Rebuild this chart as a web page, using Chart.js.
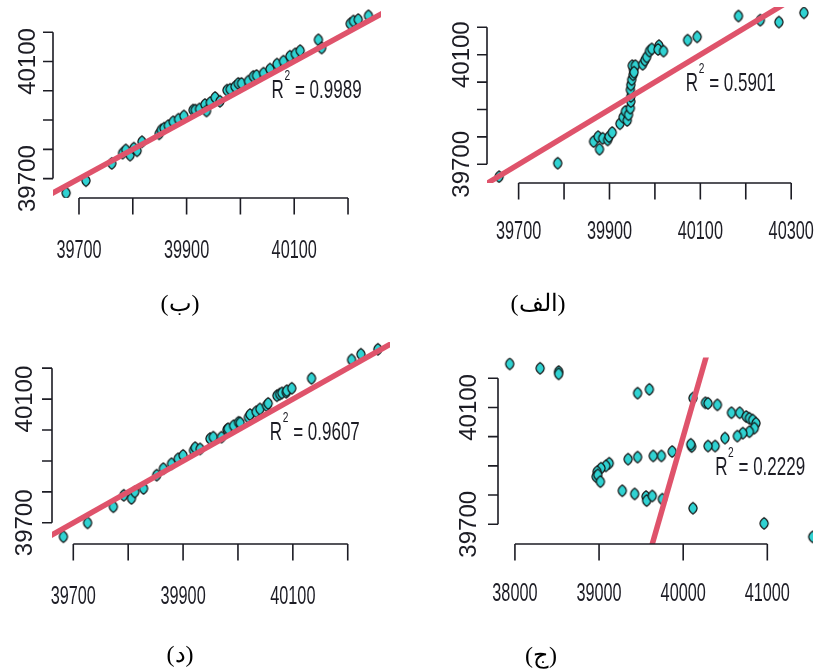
<!DOCTYPE html>
<html>
<head>
<meta charset="utf-8">
<title>1:1 scatter panels</title>
<script src="https://cdn.jsdelivr.net/npm/chart.js@4.4.0/dist/chart.umd.min.js"></script>
<style>
  body { margin: 0; background: #fff; }
  #page { position: relative; width: 820px; height: 671px; overflow: hidden; background: #fff; }
  #page canvas { position: absolute; }
  .cap { position: absolute; width: 120px; text-align: center; color: #000;
         font: 24px "Liberation Serif", "DejaVu Serif", serif; line-height: 28px; }
</style>
</head>
<body>
<div id="page">
  <canvas id="chartBe" width="410" height="335" style="left:0;top:0"></canvas>
  <canvas id="chartAlef" width="410" height="335" style="left:410px;top:0"></canvas>
  <canvas id="chartDal" width="410" height="336" style="left:0;top:335px"></canvas>
  <canvas id="chartJim" width="410" height="336" style="left:410px;top:335px"></canvas>
  <div class="cap" style="left:120px;top:289px">(ب)</div>
  <div class="cap" style="left:478px;top:289px">(الف)</div>
  <div class="cap" style="left:120px;top:640px">(د)</div>
  <div class="cap" style="left:481px;top:641px">(ج)</div>
</div>
<script>
// ---- data ----
// (الف)
const alefX = [39657, 39786, 39865, 39875, 39878, 39885, 39896, 39899, 39906, 39923, 39930, 39935, 39939,
  39942, 39946, 39947, 39947, 39946, 39947, 39949, 39952, 39953, 39950, 39957, 39954, 39973, 39978,
  39982, 39988, 39993, 40009, 40007, 40019, 40072, 40093, 40184, 40232, 40273, 40328];
const alefY = [39655, 39704, 39783, 39801, 39755, 39795, 39789, 39801, 39816, 39848, 39872, 39893, 39860,
  39881, 39905, 39929, 39948, 39972, 39990, 40009, 40027, 40045, 40060, 40060, 40036, 40065, 40080,
  40092, 40113, 40121, 40133, 40119, 40113, 40153, 40165, 40241, 40226, 40219, 40253];

// (ب)
const beX = [39676, 39713, 39761, 39781, 39787, 39795, 39802, 39808, 39817, 39849, 39853, 39858, 39866,
  39875, 39885, 39895, 39912, 39916, 39924, 39934, 39937, 39944, 39953, 39962, 39975, 39981, 39990,
  39996, 40002, 40015, 40024, 40030, 40043, 40055, 40068, 40080, 40092, 40102, 40111, 40145, 40151,
  40204, 40210, 40219, 40238];
const beY = [39651, 39693, 39752, 39787, 39798, 39780, 39804, 39795, 39826, 39853, 39866, 39872, 39881,
  39894, 39903, 39914, 39934, 39934, 39938, 39953, 39931, 39960, 39977, 39964, 40002, 40005, 40014,
  40025, 40025, 40033, 40049, 40052, 40060, 40074, 40091, 40101, 40118, 40126, 40137, 40174, 40146,
  40229, 40238, 40243, 40256];

// (ج)
const jimX = [37938, 38299, 38520, 38520, 39458, 39598, 40116, 40264, 40295, 40407, 40574, 40671, 40749,
  40787, 40826, 40865, 40845, 40787, 40709, 40644, 40497, 40380, 40295, 40101, 40090, 39869, 39741,
  39644, 39458, 39345, 39121, 39081, 39023, 38977, 38965, 38985, 39016, 39276, 39423, 39558, 39566,
  39633, 39752, 40116, 40962, 41540];
const jimY = [40249, 40234, 40223, 40215, 40149, 40162, 40132, 40116, 40114, 40109, 40082, 40082, 40069,
  40063, 40057, 40046, 40029, 40017, 40012, 40002, 39995, 39968, 39968, 39966, 39974, 39949, 39934,
  39934, 39930, 39923, 39909, 39900, 39892, 39880, 39863, 39869, 39846, 39815, 39804, 39795, 39781,
  39797, 39786, 39755, 39703, 39657];

// (د)
const dalX = [39682, 39726, 39773, 39792, 39806, 39812, 39828, 39852, 39864, 39879, 39891, 39900, 39919,
  39922, 39931, 39949, 39955, 39970, 39980, 39982, 39992, 40001, 40004, 40019, 40022, 40033, 40040,
  40052, 40055, 40071, 40076, 40080, 40088, 40089, 40098, 40134, 40207, 40224, 40255];
const dalY = [39655, 39700, 39752, 39789, 39779, 39800, 39811, 39854, 39875, 39891, 39907, 39918, 39934,
  39943, 39939, 39972, 39977, 39977, 40001, 40004, 40014, 40025, 40023, 40041, 40050, 40059, 40068,
  40079, 40086, 40111, 40116, 40120, 40122, 40127, 40135, 40167, 40227, 40245, 40261];

// 1:1 reference line end points
const oneToOne = [37000, 42000];

// tick values and their labels (blank = tick without label)
const ticksNarrow = [39700, 39800, 39900, 40000, 40100, 40200];
const labelsNarrow = ['39700', '', '39900', '', '40100', ''];
const ticksAlefX = [39700, 39800, 39900, 40000, 40100, 40200, 40300];
const labelsAlefX = ['39700', '', '39900', '', '40100', '', '40300'];
const ticksJimX = [38000, 39000, 40000, 41000];
const labelsJimX = ['38000', '39000', '40000', '41000'];
const ticksY = [39700, 39800, 39900, 40000, 40100, 40200];
const labelsY = ['39700', '', '', '', '40100', ''];

const r2Values = { alef: '0.5901', be: '0.9989', jim: '0.2229', dal: '0.9607' };

// ---- styling ----
const pink = '#DF536B';
const cyan = '#30D2D2';
const ink = '#1c1c24';
const sans = '"Liberation Sans", Arial, sans-serif';

// tall diamond marker with rounded flanks
function makeMarker() {
  const c = document.createElement('canvas');
  c.width = 12; c.height = 15;
  const g = c.getContext('2d');
  const cx = 6, cy = 7.5, rx = 4.1, ry = 5.8;
  g.beginPath();
  g.moveTo(cx, cy - ry);
  g.quadraticCurveTo(cx + rx, cy - ry * 0.5, cx + rx, cy);
  g.quadraticCurveTo(cx + rx, cy + ry * 0.5, cx, cy + ry);
  g.quadraticCurveTo(cx - rx, cy + ry * 0.5, cx - rx, cy);
  g.quadraticCurveTo(cx - rx, cy - ry * 0.5, cx, cy - ry);
  g.closePath();
  g.fillStyle = cyan;
  g.fill();
  g.lineWidth = 1.2;
  g.strokeStyle = '#111';
  g.stroke();
  return c;
}
const marker = makeMarker();

// axes drawn the way base R does: line only between first and last tick
const rAxes = {
  id: 'rAxes',
  afterDraw(chart, args, o) {
    const ctx = chart.ctx;
    const sx = chart.scales.x, sy = chart.scales.y;
    const area = chart.chartArea;
    const xs = o.xTicks.map(v => sx.getPixelForValue(v));
    const ys = o.yTicks.map(v => sy.getPixelForValue(v));

    ctx.save();
    ctx.strokeStyle = ink;
    ctx.fillStyle = ink;
    ctx.lineWidth = 1.6;
    ctx.beginPath();
    ctx.moveTo(xs[0], area.bottom);
    ctx.lineTo(xs[xs.length - 1], area.bottom);
    xs.forEach(p => { ctx.moveTo(p, area.bottom); ctx.lineTo(p, area.bottom + 16.5); });
    ctx.moveTo(area.left, ys[0]);
    ctx.lineTo(area.left, ys[ys.length - 1]);
    ys.forEach(p => { ctx.moveTo(area.left, p); ctx.lineTo(area.left - 10, p); });
    ctx.stroke();

    ctx.textAlign = 'center';
    ctx.textBaseline = 'alphabetic';
    ctx.font = '25px ' + sans;
    o.xLabels.forEach((t, i) => {
      if (!t) return;
      ctx.save();
      ctx.translate(xs[i], area.bottom + o.xGap);
      ctx.scale(0.65, 1);
      ctx.fillText(t, 0, 0);
      ctx.restore();
    });
    ctx.font = '24px ' + sans;
    o.yLabels.forEach((t, i) => {
      if (!t) return;
      ctx.save();
      ctx.translate(area.left - o.yGap, ys[i]);
      ctx.rotate(-Math.PI / 2);
      ctx.fillText(t, 0, 0);
      ctx.restore();
    });

    // R^2 note, anchored in data units
    ctx.save();
    ctx.translate(sx.getPixelForValue(o.r2At[0]), sy.getPixelForValue(o.r2At[1]));
    ctx.scale(0.68, 1);
    ctx.textAlign = 'left';
    ctx.font = '25px ' + sans;
    ctx.fillText('R', 0, 0);
    let w = ctx.measureText('R').width + 1;
    ctx.font = '15px ' + sans;
    ctx.fillText('2', w, -18);
    w += ctx.measureText('2').width;
    ctx.font = '25px ' + sans;
    ctx.fillText(' = ' + o.r2, w, 0);
    ctx.restore();

    ctx.restore();
  }
};

function makePanel(id, xVals, yVals, range, axes) {
  new Chart(document.getElementById(id), {
    type: 'scatter',
    data: {
      datasets: [
        {
          data: oneToOne.map(v => ({ x: v, y: v })),
          showLine: true,
          borderColor: pink,
          borderWidth: 5.5,
          pointRadius: 0,
          clip: 0,
          order: 0
        },
        {
          data: xVals.map((x, i) => ({ x: x, y: yVals[i] })),
          pointStyle: marker,
          pointRadius: 6,
          order: 1
        }
      ]
    },
    options: {
      responsive: false,
      animation: false,
      events: [],
      layout: { padding: range.pad },
      scales: {
        x: { display: false, min: range.x[0], max: range.x[1] },
        y: { display: false, min: range.y[0], max: range.y[1] }
      },
      plugins: { legend: { display: false }, tooltip: { enabled: false }, rAxes: axes }
    },
    plugins: [rAxes]
  });
}

makePanel('chartBe', beX, beY,
  { pad: { left: 53, right: 29, top: 1, bottom: 137 }, x: [39651.7, 40261.3], y: [39633.8, 40286] },
  { xTicks: ticksNarrow, xLabels: labelsNarrow, yTicks: ticksY, yLabels: labelsY,
    xGap: 60, yGap: 18, r2: r2Values.be, r2At: [40058, 39975] });

makePanel('chartAlef', alefX, alefY,
  { pad: { left: 77, right: 0, top: 7, bottom: 152 }, x: [39630.4, 40348], y: [39631.8, 40274] },
  { xTicks: ticksAlefX, xLabels: labelsAlefX, yTicks: ticksY, yLabels: labelsY,
    xGap: 56, yGap: 18, r2: r2Values.alef, r2At: [40068, 39969] });

makePanel('chartDal', dalX, dalY,
  { pad: { left: 52, right: 20, top: 6, bottom: 127 }, x: [39661.2, 40277], y: [39631.5, 40284.6] },
  { xTicks: ticksNarrow, xLabels: labelsNarrow, yTicks: ticksY, yLabels: labelsY,
    xGap: 60, yGap: 20, r2: r2Values.dal, r2At: [40058, 39969] });

makePanel('chartJim', jimX, jimY,
  { pad: { left: 88, right: 0, top: 22.5, bottom: 127 }, x: [37798.8, 41543], y: [39632.5, 40271] },
  { xTicks: ticksJimX, xLabels: labelsJimX, yTicks: ticksY, yLabels: labelsY,
    xGap: 57, yGap: 22, r2: r2Values.jim, r2At: [40380, 39869] });
</script>
</body>
</html>
